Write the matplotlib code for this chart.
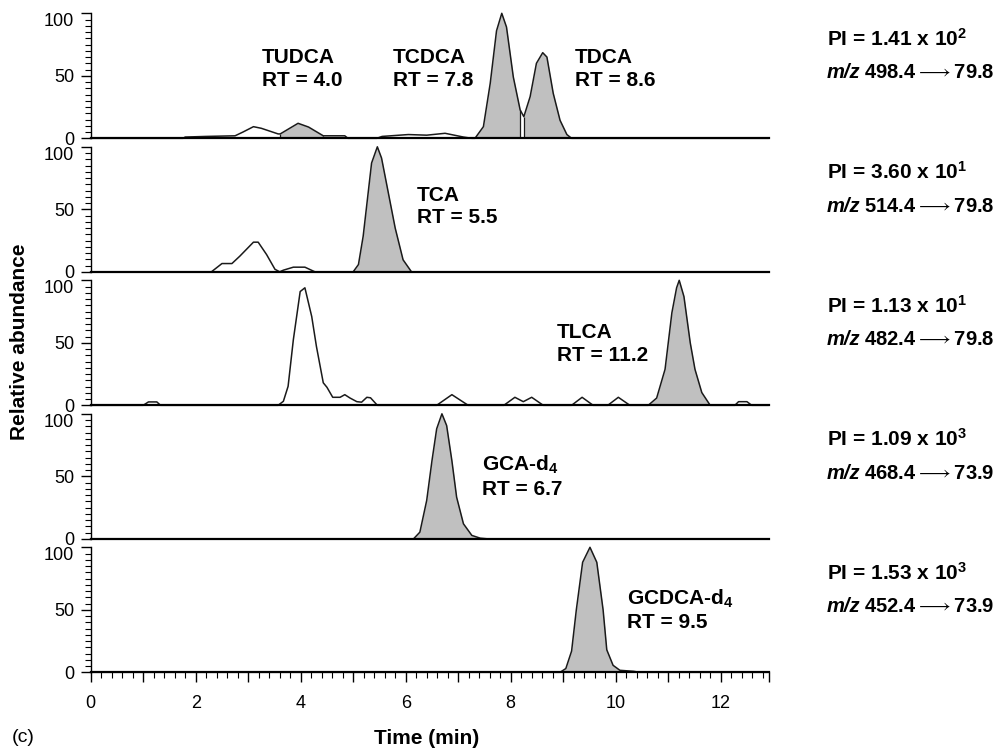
import numpy as np
import matplotlib
matplotlib.use("Agg")
import matplotlib.pyplot as plt

plt.rcParams['font.family'] = ['Liberation Sans', 'DejaVu Sans']
plt.rcParams['mathtext.fontset'] = 'custom'
plt.rcParams['mathtext.rm'] = 'Liberation Sans:bold'
plt.rcParams['mathtext.default'] = 'rm'

# --- chromatogram traces (time in min, relative abundance) ---
t_1 = [0.0, 1.76, 1.80, 2.20, 2.75, 2.90, 3.10, 3.25, 3.57, 3.61, 3.75, 3.95, 4.15,
       4.43, 4.84, 4.90, 5.45, 5.55, 6.05, 6.40, 6.75, 7.10, 7.26, 7.32, 7.48, 7.61,
       7.73, 7.83, 7.92, 8.05, 8.18, 8.25, 8.37, 8.49, 8.61, 8.69, 8.81, 8.94, 9.07,
       9.16, 12.9]
a_1 = [0, 0, 1, 1.5, 2, 5, 9.3, 8, 3.5, 3.5, 7, 12, 9,
       2, 2, 0, 0, 1.5, 3, 2.5, 4, 1, 0, 0, 9.3, 44,
       86, 100, 89, 49, 22.7, 17.3, 33.3, 60, 68.5, 65, 36, 14.4, 3,
       0, 0]

t_2 = [0.0, 2.30, 2.50, 2.69, 2.84, 3.10, 3.19, 3.35, 3.51, 3.60, 3.67, 3.86, 4.08,
       4.27, 5.00, 5.10, 5.19, 5.35, 5.46, 5.54, 5.67, 5.80, 5.95, 6.11, 12.9]
a_2 = [0, 0, 6.6, 6.6, 12.5, 23.7, 23.7, 13.8, 2, 0, 1.3, 3.7, 3.7,
       0, 0, 5.8, 28.5, 87, 100, 91, 63, 35, 9.6, 0, 0]

t_3 = [0.0, 1.00, 1.10, 1.26, 1.33, 3.57, 3.67, 3.76, 3.86, 3.99, 4.08, 4.21, 4.30,
       4.43, 4.50, 4.61, 4.75, 4.84, 4.94, 5.07, 5.16, 5.26, 5.33, 5.46, 6.59, 6.88,
       7.19, 7.87, 8.08, 8.24, 8.40, 8.62, 9.16, 9.36, 9.57, 9.85, 10.05, 10.27, 10.62,
       10.78, 10.94, 11.07, 11.16, 11.21, 11.30, 11.42, 11.51, 11.64, 11.80, 12.27,
       12.34, 12.50, 12.59, 12.9]
a_3 = [0, 0, 2.7, 2.7, 0, 0, 3.2, 15.2, 52.5, 91, 94, 71, 47,
       18, 14.4, 6.4, 6.4, 8.5, 5.8, 2.9, 2.5, 6.4, 6, 0, 0, 8.5,
       0, 0, 6.4, 2.9, 6.4, 0, 0, 6.4, 0, 0, 6.4, 0, 0,
       5.8, 28.8, 74, 94, 100, 87, 50, 28.8, 10.2, 0, 0,
       2.9, 2.9, 0, 0]

t_4 = [0.0, 6.15, 6.27, 6.40, 6.50, 6.59, 6.69, 6.78, 6.88, 6.97, 7.10, 7.26, 7.42,
       7.55, 12.9]
a_4 = [0, 0, 5.3, 30.7, 62.4, 88, 100, 90.6, 62.4, 33.3, 12, 2.7, 0.5,
       0, 0]

t_5 = [0.0, 8.94, 9.05, 9.16, 9.25, 9.37, 9.51, 9.64, 9.76, 9.83, 9.95, 10.08, 10.34,
       10.45, 12.9]
a_5 = [0, 0, 3, 17, 50, 88, 100, 88, 50, 18, 5.6, 1.6, 0.8,
       0, 0]

# integrated (shaded) peak windows per trace
shaded_1 = [(3.61, 4.43), (7.32, 8.18), (8.25, 9.16)]
shaded_2 = [(5.00, 6.11)]
shaded_3 = [(10.62, 11.80)]
shaded_4 = [(6.15, 7.55)]
shaded_5 = [(8.94, 10.45)]

# compound labels: (text, x, y)
labels_1 = [("TUDCA\nRT = 4.0", 3.26, 72), ("TCDCA\nRT = 7.8", 5.76, 72),
            ("TDCA\nRT = 8.6", 9.22, 72)]
labels_2 = [("TCA\nRT = 5.5", 6.21, 69)]
labels_3 = [("TLCA\nRT = 11.2", 8.88, 66)]
labels_4 = [("GCA-d$_4$\nRT = 6.7", 7.45, 68)]
labels_5 = [("GCDCA-d$_4$\nRT = 9.5", 10.22, 68)]

pi_text = [r"PI = 1.41 x 10$^{2}$", r"PI = 3.60 x 10$^{1}$", r"PI = 1.13 x 10$^{1}$",
           r"PI = 1.09 x 10$^{3}$", r"PI = 1.53 x 10$^{3}$"]
mrm_text = [r"498.4$\longrightarrow$79.8", r"514.4$\longrightarrow$79.8",
            r"482.4$\longrightarrow$79.8", r"468.4$\longrightarrow$73.9",
            r"452.4$\longrightarrow$73.9"]

traces = [(t_1, a_1, shaded_1, labels_1), (t_2, a_2, shaded_2, labels_2),
          (t_3, a_3, shaded_3, labels_3), (t_4, a_4, shaded_4, labels_4),
          (t_5, a_5, shaded_5, labels_5)]

W, H = 1001, 749
fig = plt.figure(figsize=(W / 100, H / 100), dpi=100)

left_px, right_px = 90.7, 769.0
pitch = 133.5
first_base = 138.3
line_col = '#1a1a1a'
fill_col = '#c0c0c0'
ymax = pitch / 1.25

for i, (t, a, shaded, labels) in enumerate(traces):
    base = first_base + pitch * i
    ax = fig.add_axes([left_px / W, 1 - base / H, (right_px - left_px) / W, pitch / H])
    t = np.array(t)
    a = np.array(a)

    for t0, t1 in shaded:
        m = (t >= t0 - 1e-9) & (t <= t1 + 1e-9)
        ax.fill_between(t[m], a[m], 0, color=fill_col, lw=0, clip_on=False)
        ax.vlines([t[m][0], t[m][-1]], 0, [a[m][0], a[m][-1]], color=line_col, lw=0.9)
    ax.plot(t, a, color=line_col, lw=1.1, clip_on=False)

    for txt, x, y in labels:
        ax.text(x, y, txt, fontsize=15, fontweight='bold', va='top', ha='left',
                linespacing=1.25)

    yt = ax.get_yaxis_transform()
    ax.text(1.0856, 74, pi_text[i], transform=yt, fontsize=15,
            fontweight='bold', va='baseline')
    ax.text(1.0856, 48, "m/z", transform=yt, fontsize=14.5, fontweight='bold',
            style='italic', va='baseline')
    ax.text(1.1400, 48, mrm_text[i], transform=yt, fontsize=14.5,
            fontweight='bold', va='baseline')

    ax.set_xlim(0, 12.92)
    ax.set_ylim(0, ymax)
    ax.spines['top'].set_visible(False)
    ax.spines['right'].set_visible(False)
    ax.spines['left'].set_bounds(0, 100)
    ax.spines['left'].set_linewidth(1.0)
    ax.spines['bottom'].set_linewidth(1.6)
    ax.set_yticks([0, 50, 100])
    ax.set_yticks(np.arange(0, 101, 5), minor=True)
    ax.tick_params(axis='y', which='major', length=7, width=1, labelsize=13, pad=5)
    ax.tick_params(axis='y', which='minor', length=4, width=0.8)
    ylabs = ax.get_yticklabels()
    ylabs[0].set_va('center_baseline')
    ylabs[2].set_va('top')

    if i < len(traces) - 1:
        ax.tick_params(axis='x', which='both', bottom=False, labelbottom=False)
    else:
        ax.set_xticks(list(range(0, 13)) + [12.92])
        ax.set_xticklabels([str(v) if v % 2 == 0 else '' for v in range(0, 13)] + [''])
        ax.set_xticks(np.arange(0, 12.9, 0.2), minor=True)
        ax.tick_params(axis='x', which='major', length=7, width=1, labelsize=13, pad=9)
        ax.tick_params(axis='x', which='minor', length=4, width=0.8)
    ax.patch.set_alpha(0)

fig.text(20 / W, 1 - 342 / H, "Relative abundance", rotation=90, fontsize=15,
         fontweight='bold', ha='center', va='center')
fig.text(427 / W, 1 - 738 / H, "Time (min)", fontsize=15, fontweight='bold',
         ha='center', va='center')
fig.text(12 / W, 1 - 738 / H, "(c)", fontsize=14, ha='left', va='center')

fig.savefig("out.png", dpi=100)
